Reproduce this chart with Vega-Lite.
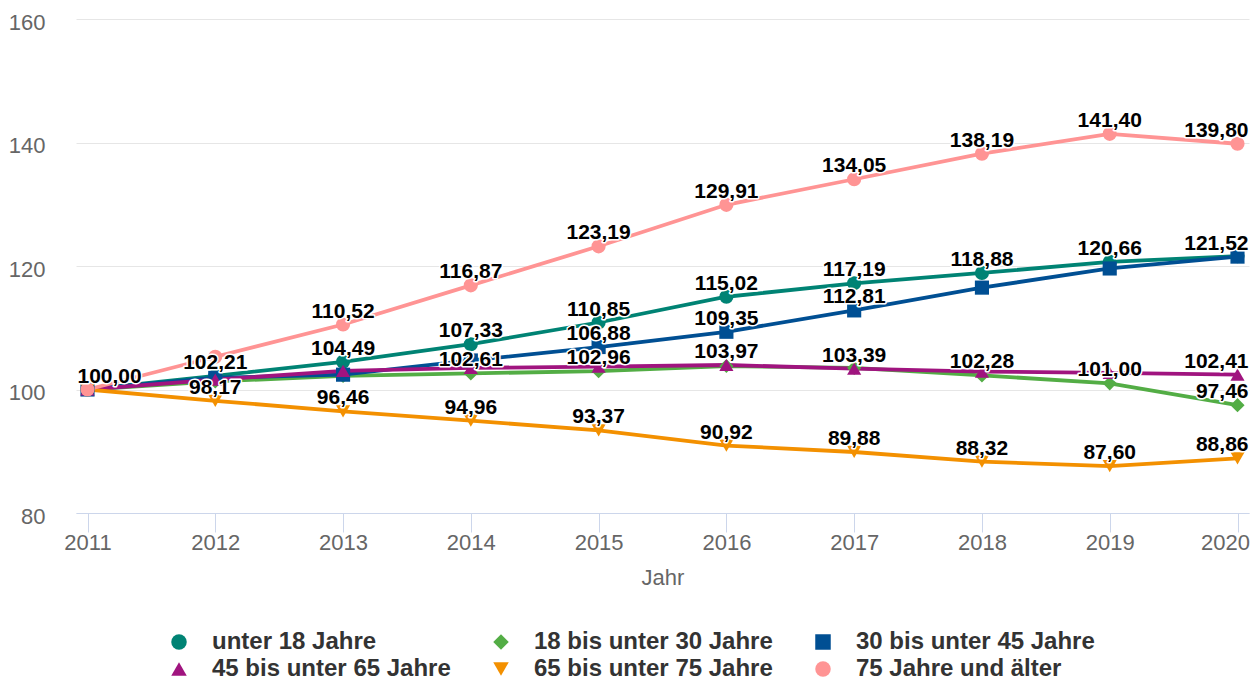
{
  "$schema": "https://vega.github.io/schema/vega-lite/v6.json",
  "width": 1173,
  "height": 494,
  "autosize": {"type": "none"},
  "padding": {"left": 76, "top": 19, "right": 10, "bottom": 168},
  "background": "white",
  "config": {"view": {"stroke": null}, "font": "Liberation Sans"},
  "data": {"values": [
    {"Jahr": 2011, "Gruppe": "unter 18 Jahre", "Wert": 100.00, "Label": "100,00"},
    {"Jahr": 2012, "Gruppe": "unter 18 Jahre", "Wert": 102.21, "Label": "102,21"},
    {"Jahr": 2013, "Gruppe": "unter 18 Jahre", "Wert": 104.49, "Label": "104,49"},
    {"Jahr": 2014, "Gruppe": "unter 18 Jahre", "Wert": 107.33, "Label": "107,33"},
    {"Jahr": 2015, "Gruppe": "unter 18 Jahre", "Wert": 110.85, "Label": "110,85"},
    {"Jahr": 2016, "Gruppe": "unter 18 Jahre", "Wert": 115.02, "Label": "115,02"},
    {"Jahr": 2017, "Gruppe": "unter 18 Jahre", "Wert": 117.19, "Label": "117,19"},
    {"Jahr": 2018, "Gruppe": "unter 18 Jahre", "Wert": 118.88, "Label": "118,88"},
    {"Jahr": 2019, "Gruppe": "unter 18 Jahre", "Wert": 120.66, "Label": "120,66"},
    {"Jahr": 2020, "Gruppe": "unter 18 Jahre", "Wert": 121.60, "Label": null},
    {"Jahr": 2011, "Gruppe": "18 bis unter 30 Jahre", "Wert": 100.00, "Label": null},
    {"Jahr": 2012, "Gruppe": "18 bis unter 30 Jahre", "Wert": 101.30, "Label": null},
    {"Jahr": 2013, "Gruppe": "18 bis unter 30 Jahre", "Wert": 102.20, "Label": null},
    {"Jahr": 2014, "Gruppe": "18 bis unter 30 Jahre", "Wert": 102.61, "Label": "102,61"},
    {"Jahr": 2015, "Gruppe": "18 bis unter 30 Jahre", "Wert": 102.96, "Label": "102,96"},
    {"Jahr": 2016, "Gruppe": "18 bis unter 30 Jahre", "Wert": 103.80, "Label": null},
    {"Jahr": 2017, "Gruppe": "18 bis unter 30 Jahre", "Wert": 103.50, "Label": null},
    {"Jahr": 2018, "Gruppe": "18 bis unter 30 Jahre", "Wert": 102.28, "Label": "102,28"},
    {"Jahr": 2019, "Gruppe": "18 bis unter 30 Jahre", "Wert": 101.00, "Label": "101,00"},
    {"Jahr": 2020, "Gruppe": "18 bis unter 30 Jahre", "Wert": 97.46, "Label": "97,46"},
    {"Jahr": 2011, "Gruppe": "30 bis unter 45 Jahre", "Wert": 100.00, "Label": null},
    {"Jahr": 2012, "Gruppe": "30 bis unter 45 Jahre", "Wert": 101.90, "Label": null},
    {"Jahr": 2013, "Gruppe": "30 bis unter 45 Jahre", "Wert": 102.40, "Label": null},
    {"Jahr": 2014, "Gruppe": "30 bis unter 45 Jahre", "Wert": 104.70, "Label": null},
    {"Jahr": 2015, "Gruppe": "30 bis unter 45 Jahre", "Wert": 106.88, "Label": "106,88"},
    {"Jahr": 2016, "Gruppe": "30 bis unter 45 Jahre", "Wert": 109.35, "Label": "109,35"},
    {"Jahr": 2017, "Gruppe": "30 bis unter 45 Jahre", "Wert": 112.81, "Label": "112,81"},
    {"Jahr": 2018, "Gruppe": "30 bis unter 45 Jahre", "Wert": 116.50, "Label": null},
    {"Jahr": 2019, "Gruppe": "30 bis unter 45 Jahre", "Wert": 119.60, "Label": null},
    {"Jahr": 2020, "Gruppe": "30 bis unter 45 Jahre", "Wert": 121.52, "Label": "121,52"},
    {"Jahr": 2011, "Gruppe": "45 bis unter 65 Jahre", "Wert": 100.00, "Label": null},
    {"Jahr": 2012, "Gruppe": "45 bis unter 65 Jahre", "Wert": 101.60, "Label": null},
    {"Jahr": 2013, "Gruppe": "45 bis unter 65 Jahre", "Wert": 103.00, "Label": null},
    {"Jahr": 2014, "Gruppe": "45 bis unter 65 Jahre", "Wert": 103.50, "Label": null},
    {"Jahr": 2015, "Gruppe": "45 bis unter 65 Jahre", "Wert": 103.70, "Label": null},
    {"Jahr": 2016, "Gruppe": "45 bis unter 65 Jahre", "Wert": 103.97, "Label": "103,97"},
    {"Jahr": 2017, "Gruppe": "45 bis unter 65 Jahre", "Wert": 103.39, "Label": "103,39"},
    {"Jahr": 2018, "Gruppe": "45 bis unter 65 Jahre", "Wert": 102.90, "Label": null},
    {"Jahr": 2019, "Gruppe": "45 bis unter 65 Jahre", "Wert": 102.70, "Label": null},
    {"Jahr": 2020, "Gruppe": "45 bis unter 65 Jahre", "Wert": 102.41, "Label": "102,41"},
    {"Jahr": 2011, "Gruppe": "65 bis unter 75 Jahre", "Wert": 100.00, "Label": null},
    {"Jahr": 2012, "Gruppe": "65 bis unter 75 Jahre", "Wert": 98.17, "Label": "98,17"},
    {"Jahr": 2013, "Gruppe": "65 bis unter 75 Jahre", "Wert": 96.46, "Label": "96,46"},
    {"Jahr": 2014, "Gruppe": "65 bis unter 75 Jahre", "Wert": 94.96, "Label": "94,96"},
    {"Jahr": 2015, "Gruppe": "65 bis unter 75 Jahre", "Wert": 93.37, "Label": "93,37"},
    {"Jahr": 2016, "Gruppe": "65 bis unter 75 Jahre", "Wert": 90.92, "Label": "90,92"},
    {"Jahr": 2017, "Gruppe": "65 bis unter 75 Jahre", "Wert": 89.88, "Label": "89,88"},
    {"Jahr": 2018, "Gruppe": "65 bis unter 75 Jahre", "Wert": 88.32, "Label": "88,32"},
    {"Jahr": 2019, "Gruppe": "65 bis unter 75 Jahre", "Wert": 87.60, "Label": "87,60"},
    {"Jahr": 2020, "Gruppe": "65 bis unter 75 Jahre", "Wert": 88.86, "Label": "88,86"},
    {"Jahr": 2011, "Gruppe": "75 Jahre und älter", "Wert": 100.00, "Label": null},
    {"Jahr": 2012, "Gruppe": "75 Jahre und älter", "Wert": 105.30, "Label": null},
    {"Jahr": 2013, "Gruppe": "75 Jahre und älter", "Wert": 110.52, "Label": "110,52"},
    {"Jahr": 2014, "Gruppe": "75 Jahre und älter", "Wert": 116.87, "Label": "116,87"},
    {"Jahr": 2015, "Gruppe": "75 Jahre und älter", "Wert": 123.19, "Label": "123,19"},
    {"Jahr": 2016, "Gruppe": "75 Jahre und älter", "Wert": 129.91, "Label": "129,91"},
    {"Jahr": 2017, "Gruppe": "75 Jahre und älter", "Wert": 134.05, "Label": "134,05"},
    {"Jahr": 2018, "Gruppe": "75 Jahre und älter", "Wert": 138.19, "Label": "138,19"},
    {"Jahr": 2019, "Gruppe": "75 Jahre und älter", "Wert": 141.40, "Label": "141,40"},
    {"Jahr": 2020, "Gruppe": "75 Jahre und älter", "Wert": 139.80, "Label": "139,80"}
  ]},
  "encoding": {
    "x": {
      "field": "Jahr", "type": "ordinal",
      "scale": {"type": "point", "padding": 0.09},
      "axis": {
        "title": "Jahr", "titleFontSize": 22, "titleFontWeight": "normal", "titleColor": "#666666", "titlePadding": 14,
        "labelFontSize": 22, "labelColor": "#666666", "labelAngle": 0, "labelPadding": 0,
        "labelAlign": {"condition": {"test": "datum.value == 2020", "value": "right"}, "value": "center"},
        "labelOffset": {"condition": {"test": "datum.value == 2020", "value": 12}, "value": 0},
        "tickSize": 19, "tickColor": "#ccd6eb", "domainColor": "#ccd6eb", "tickWidth": 1, "domainWidth": 1, "grid": false
      }
    },
    "y": {
      "field": "Wert", "type": "quantitative",
      "scale": {"domain": [80, 160], "nice": false, "zero": false},
      "axis": {
        "title": null, "values": [80, 100, 120, 140, 160],
        "labelFontSize": 22, "labelColor": "#666666", "labelPadding": 31, "labelOffset": 3,
        "ticks": false, "domain": false, "gridColor": "#e6e6e6", "gridWidth": 1
      }
    }
  },
  "layer": [
    {
      "mark": {"type": "line", "strokeWidth": 3.8},
      "encoding": {
        "color": {
          "field": "Gruppe", "type": "nominal",
          "scale": {
            "domain": ["unter 18 Jahre", "18 bis unter 30 Jahre", "30 bis unter 45 Jahre", "45 bis unter 65 Jahre", "65 bis unter 75 Jahre", "75 Jahre und älter"],
            "range": ["#008374", "#53ad45", "#004f93", "#a0147f", "#f39000", "#ff9494"]
          },
          "legend": {
            "title": null, "orient": "none", "legendX": 91, "legendY": 611, "columns": 3, "direction": "horizontal",
            "gridAlign": "all", "columnPadding": 38, "rowPadding": 3, "padding": 0,
            "symbolSize": 240, "labelFontSize": 24, "labelFontWeight": "bold", "labelColor": "#333333",
            "labelOffset": 21, "labelLimit": 500, "symbolStrokeWidth": 0
          }
        }
      }
    },
    {
      "mark": {"type": "point", "filled": true, "size": 200, "opacity": 1},
      "encoding": {
        "color": {
          "field": "Gruppe", "type": "nominal",
          "legend": {
            "title": null, "orient": "none", "legendX": 91, "legendY": 611, "columns": 3, "direction": "horizontal",
            "gridAlign": "all", "columnPadding": 38, "rowPadding": 3, "padding": 0,
            "symbolSize": 240, "labelFontSize": 24, "labelFontWeight": "bold", "labelColor": "#333333",
            "labelOffset": 21, "labelLimit": 500, "symbolStrokeWidth": 0
          }
        },
        "shape": {
          "field": "Gruppe", "type": "nominal",
          "scale": {
            "domain": ["unter 18 Jahre", "18 bis unter 30 Jahre", "30 bis unter 45 Jahre", "45 bis unter 65 Jahre", "65 bis unter 75 Jahre", "75 Jahre und älter"],
            "range": ["circle", "diamond", "square", "triangle-up", "triangle-down", "circle"]
          },
          "legend": {
            "title": null, "orient": "none", "legendX": 91, "legendY": 611, "columns": 3, "direction": "horizontal",
            "gridAlign": "all", "columnPadding": 38, "rowPadding": 3, "padding": 0,
            "symbolSize": 240, "labelFontSize": 24, "labelFontWeight": "bold", "labelColor": "#333333",
            "labelOffset": 21, "labelLimit": 500, "symbolStrokeWidth": 0
          }
        }
      }
    },
    {
      "transform": [{"filter": "datum.Label != null && datum.Jahr > 2011 && datum.Jahr < 2020"}],
      "mark": {"type": "text", "fontSize": 21, "fontWeight": "bold", "baseline": "alphabetic", "dy": -7, "stroke": "white", "strokeWidth": 3, "strokeJoin": "round", "fill": "white"},
      "encoding": {"text": {"field": "Label"}}
    },
    {
      "transform": [{"filter": "datum.Label != null && datum.Jahr > 2011 && datum.Jahr < 2020"}],
      "mark": {"type": "text", "fontSize": 21, "fontWeight": "bold", "baseline": "alphabetic", "dy": -7, "fill": "#000000"},
      "encoding": {"text": {"field": "Label"}}
    },
    {
      "transform": [{"filter": "datum.Label != null && datum.Jahr == 2011"}],
      "mark": {"type": "text", "fontSize": 21, "fontWeight": "bold", "baseline": "alphabetic", "align": "left", "dx": -10, "dy": -7, "stroke": "white", "strokeWidth": 3, "strokeJoin": "round", "fill": "white"},
      "encoding": {"text": {"field": "Label"}}
    },
    {
      "transform": [{"filter": "datum.Label != null && datum.Jahr == 2011"}],
      "mark": {"type": "text", "fontSize": 21, "fontWeight": "bold", "baseline": "alphabetic", "align": "left", "dx": -10, "dy": -7, "fill": "#000000"},
      "encoding": {"text": {"field": "Label"}}
    },
    {
      "transform": [{"filter": "datum.Label != null && datum.Jahr == 2020"}],
      "mark": {"type": "text", "fontSize": 21, "fontWeight": "bold", "baseline": "alphabetic", "align": "right", "dx": 11, "dy": -7, "stroke": "white", "strokeWidth": 3, "strokeJoin": "round", "fill": "white"},
      "encoding": {"text": {"field": "Label"}}
    },
    {
      "transform": [{"filter": "datum.Label != null && datum.Jahr == 2020"}],
      "mark": {"type": "text", "fontSize": 21, "fontWeight": "bold", "baseline": "alphabetic", "align": "right", "dx": 11, "dy": -7, "fill": "#000000"},
      "encoding": {"text": {"field": "Label"}}
    }
  ]
}
